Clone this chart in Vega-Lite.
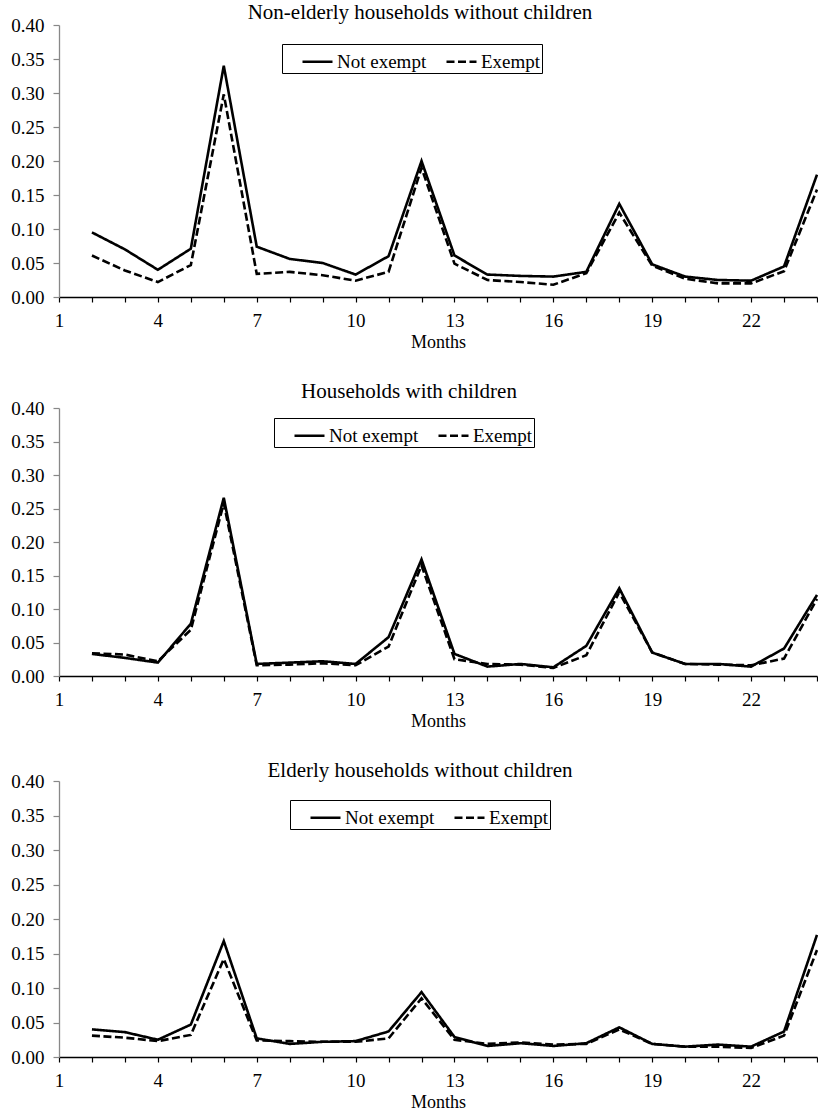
{
  "$schema": "https://vega.github.io/schema/vega-lite/v6.json",
  "padding": {"left": 10, "right": 2, "top": 2, "bottom": 0},
  "background": "white",
  "config": {
    "font": "Liberation Serif",
    "view": {"stroke": null},
    "concat": {"spacing": 30},
    "axis": {"labelFont": "Liberation Serif", "titleFont": "Liberation Serif", "labelColor": "black", "titleColor": "black", "labelFontSize": 19, "titleFontSize": 18, "titleFontWeight": "normal", "grid": false, "tickColor": "black", "domainColor": "black", "domainWidth": 1.3, "tickWidth": 1.2},
    "title": {"font": "Liberation Serif", "fontSize": 21, "fontWeight": "normal", "color": "black", "anchor": "middle"},
    "legend": {"orient": "none", "direction": "horizontal", "title": null, "strokeColor": "black", "fillColor": "white", "padding": 1, "labelFont": "Liberation Serif", "labelFontSize": 19, "labelColor": "black", "symbolType": "stroke", "symbolStrokeWidth": 2.6, "symbolStrokeColor": "black", "symbolSize": 900, "columnPadding": 0, "labelOffset": 3, "symbolOffset": 18}
  },
  "resolve": {"scale": {"strokeDash": "independent"}, "legend": {"strokeDash": "independent"}},
  "datasets": {
    "d": [
      {"panel": "A", "month": 2, "status": "Not exempt", "value": 0.095},
      {"panel": "A", "month": 3, "status": "Not exempt", "value": 0.070},
      {"panel": "A", "month": 4, "status": "Not exempt", "value": 0.040},
      {"panel": "A", "month": 5, "status": "Not exempt", "value": 0.071},
      {"panel": "A", "month": 6, "status": "Not exempt", "value": 0.340},
      {"panel": "A", "month": 7, "status": "Not exempt", "value": 0.074},
      {"panel": "A", "month": 8, "status": "Not exempt", "value": 0.056},
      {"panel": "A", "month": 9, "status": "Not exempt", "value": 0.050},
      {"panel": "A", "month": 10, "status": "Not exempt", "value": 0.033},
      {"panel": "A", "month": 11, "status": "Not exempt", "value": 0.060},
      {"panel": "A", "month": 12, "status": "Not exempt", "value": 0.200},
      {"panel": "A", "month": 13, "status": "Not exempt", "value": 0.061},
      {"panel": "A", "month": 14, "status": "Not exempt", "value": 0.033},
      {"panel": "A", "month": 15, "status": "Not exempt", "value": 0.031},
      {"panel": "A", "month": 16, "status": "Not exempt", "value": 0.030},
      {"panel": "A", "month": 17, "status": "Not exempt", "value": 0.037},
      {"panel": "A", "month": 18, "status": "Not exempt", "value": 0.137},
      {"panel": "A", "month": 19, "status": "Not exempt", "value": 0.048},
      {"panel": "A", "month": 20, "status": "Not exempt", "value": 0.030},
      {"panel": "A", "month": 21, "status": "Not exempt", "value": 0.025},
      {"panel": "A", "month": 22, "status": "Not exempt", "value": 0.024},
      {"panel": "A", "month": 23, "status": "Not exempt", "value": 0.045},
      {"panel": "A", "month": 24, "status": "Not exempt", "value": 0.180},
      {"panel": "A", "month": 2, "status": "Exempt", "value": 0.061},
      {"panel": "A", "month": 3, "status": "Exempt", "value": 0.039},
      {"panel": "A", "month": 4, "status": "Exempt", "value": 0.022},
      {"panel": "A", "month": 5, "status": "Exempt", "value": 0.047},
      {"panel": "A", "month": 6, "status": "Exempt", "value": 0.298},
      {"panel": "A", "month": 7, "status": "Exempt", "value": 0.034},
      {"panel": "A", "month": 8, "status": "Exempt", "value": 0.037},
      {"panel": "A", "month": 9, "status": "Exempt", "value": 0.032},
      {"panel": "A", "month": 10, "status": "Exempt", "value": 0.024},
      {"panel": "A", "month": 11, "status": "Exempt", "value": 0.037},
      {"panel": "A", "month": 12, "status": "Exempt", "value": 0.190},
      {"panel": "A", "month": 13, "status": "Exempt", "value": 0.049},
      {"panel": "A", "month": 14, "status": "Exempt", "value": 0.025},
      {"panel": "A", "month": 15, "status": "Exempt", "value": 0.022},
      {"panel": "A", "month": 16, "status": "Exempt", "value": 0.018},
      {"panel": "A", "month": 17, "status": "Exempt", "value": 0.035},
      {"panel": "A", "month": 18, "status": "Exempt", "value": 0.124},
      {"panel": "A", "month": 19, "status": "Exempt", "value": 0.046},
      {"panel": "A", "month": 20, "status": "Exempt", "value": 0.027},
      {"panel": "A", "month": 21, "status": "Exempt", "value": 0.020},
      {"panel": "A", "month": 22, "status": "Exempt", "value": 0.020},
      {"panel": "A", "month": 23, "status": "Exempt", "value": 0.038},
      {"panel": "A", "month": 24, "status": "Exempt", "value": 0.158},
      {"panel": "B", "month": 2, "status": "Not exempt", "value": 0.033},
      {"panel": "B", "month": 3, "status": "Not exempt", "value": 0.027},
      {"panel": "B", "month": 4, "status": "Not exempt", "value": 0.020},
      {"panel": "B", "month": 5, "status": "Not exempt", "value": 0.078},
      {"panel": "B", "month": 6, "status": "Not exempt", "value": 0.266},
      {"panel": "B", "month": 7, "status": "Not exempt", "value": 0.018},
      {"panel": "B", "month": 8, "status": "Not exempt", "value": 0.020},
      {"panel": "B", "month": 9, "status": "Not exempt", "value": 0.022},
      {"panel": "B", "month": 10, "status": "Not exempt", "value": 0.018},
      {"panel": "B", "month": 11, "status": "Not exempt", "value": 0.058},
      {"panel": "B", "month": 12, "status": "Not exempt", "value": 0.174},
      {"panel": "B", "month": 13, "status": "Not exempt", "value": 0.033},
      {"panel": "B", "month": 14, "status": "Not exempt", "value": 0.014},
      {"panel": "B", "month": 15, "status": "Not exempt", "value": 0.018},
      {"panel": "B", "month": 16, "status": "Not exempt", "value": 0.013},
      {"panel": "B", "month": 17, "status": "Not exempt", "value": 0.045},
      {"panel": "B", "month": 18, "status": "Not exempt", "value": 0.131},
      {"panel": "B", "month": 19, "status": "Not exempt", "value": 0.035},
      {"panel": "B", "month": 20, "status": "Not exempt", "value": 0.018},
      {"panel": "B", "month": 21, "status": "Not exempt", "value": 0.018},
      {"panel": "B", "month": 22, "status": "Not exempt", "value": 0.014},
      {"panel": "B", "month": 23, "status": "Not exempt", "value": 0.041},
      {"panel": "B", "month": 24, "status": "Not exempt", "value": 0.121},
      {"panel": "B", "month": 2, "status": "Exempt", "value": 0.034},
      {"panel": "B", "month": 3, "status": "Exempt", "value": 0.032},
      {"panel": "B", "month": 4, "status": "Exempt", "value": 0.022},
      {"panel": "B", "month": 5, "status": "Exempt", "value": 0.069},
      {"panel": "B", "month": 6, "status": "Exempt", "value": 0.258},
      {"panel": "B", "month": 7, "status": "Exempt", "value": 0.016},
      {"panel": "B", "month": 8, "status": "Exempt", "value": 0.017},
      {"panel": "B", "month": 9, "status": "Exempt", "value": 0.019},
      {"panel": "B", "month": 10, "status": "Exempt", "value": 0.016},
      {"panel": "B", "month": 11, "status": "Exempt", "value": 0.044},
      {"panel": "B", "month": 12, "status": "Exempt", "value": 0.165},
      {"panel": "B", "month": 13, "status": "Exempt", "value": 0.025},
      {"panel": "B", "month": 14, "status": "Exempt", "value": 0.018},
      {"panel": "B", "month": 15, "status": "Exempt", "value": 0.017},
      {"panel": "B", "month": 16, "status": "Exempt", "value": 0.012},
      {"panel": "B", "month": 17, "status": "Exempt", "value": 0.031},
      {"panel": "B", "month": 18, "status": "Exempt", "value": 0.125},
      {"panel": "B", "month": 19, "status": "Exempt", "value": 0.035},
      {"panel": "B", "month": 20, "status": "Exempt", "value": 0.018},
      {"panel": "B", "month": 21, "status": "Exempt", "value": 0.017},
      {"panel": "B", "month": 22, "status": "Exempt", "value": 0.016},
      {"panel": "B", "month": 23, "status": "Exempt", "value": 0.026},
      {"panel": "B", "month": 24, "status": "Exempt", "value": 0.115},
      {"panel": "C", "month": 2, "status": "Not exempt", "value": 0.040},
      {"panel": "C", "month": 3, "status": "Not exempt", "value": 0.036},
      {"panel": "C", "month": 4, "status": "Not exempt", "value": 0.025},
      {"panel": "C", "month": 5, "status": "Not exempt", "value": 0.047},
      {"panel": "C", "month": 6, "status": "Not exempt", "value": 0.168},
      {"panel": "C", "month": 7, "status": "Not exempt", "value": 0.027},
      {"panel": "C", "month": 8, "status": "Not exempt", "value": 0.019},
      {"panel": "C", "month": 9, "status": "Not exempt", "value": 0.022},
      {"panel": "C", "month": 10, "status": "Not exempt", "value": 0.023},
      {"panel": "C", "month": 11, "status": "Not exempt", "value": 0.037},
      {"panel": "C", "month": 12, "status": "Not exempt", "value": 0.094},
      {"panel": "C", "month": 13, "status": "Not exempt", "value": 0.029},
      {"panel": "C", "month": 14, "status": "Not exempt", "value": 0.016},
      {"panel": "C", "month": 15, "status": "Not exempt", "value": 0.020},
      {"panel": "C", "month": 16, "status": "Not exempt", "value": 0.016},
      {"panel": "C", "month": 17, "status": "Not exempt", "value": 0.020},
      {"panel": "C", "month": 18, "status": "Not exempt", "value": 0.043},
      {"panel": "C", "month": 19, "status": "Not exempt", "value": 0.019},
      {"panel": "C", "month": 20, "status": "Not exempt", "value": 0.015},
      {"panel": "C", "month": 21, "status": "Not exempt", "value": 0.018},
      {"panel": "C", "month": 22, "status": "Not exempt", "value": 0.015},
      {"panel": "C", "month": 23, "status": "Not exempt", "value": 0.037},
      {"panel": "C", "month": 24, "status": "Not exempt", "value": 0.177},
      {"panel": "C", "month": 2, "status": "Exempt", "value": 0.031},
      {"panel": "C", "month": 3, "status": "Exempt", "value": 0.028},
      {"panel": "C", "month": 4, "status": "Exempt", "value": 0.023},
      {"panel": "C", "month": 5, "status": "Exempt", "value": 0.032},
      {"panel": "C", "month": 6, "status": "Exempt", "value": 0.142},
      {"panel": "C", "month": 7, "status": "Exempt", "value": 0.024},
      {"panel": "C", "month": 8, "status": "Exempt", "value": 0.023},
      {"panel": "C", "month": 9, "status": "Exempt", "value": 0.022},
      {"panel": "C", "month": 10, "status": "Exempt", "value": 0.022},
      {"panel": "C", "month": 11, "status": "Exempt", "value": 0.027},
      {"panel": "C", "month": 12, "status": "Exempt", "value": 0.085},
      {"panel": "C", "month": 13, "status": "Exempt", "value": 0.025},
      {"panel": "C", "month": 14, "status": "Exempt", "value": 0.019},
      {"panel": "C", "month": 15, "status": "Exempt", "value": 0.021},
      {"panel": "C", "month": 16, "status": "Exempt", "value": 0.018},
      {"panel": "C", "month": 17, "status": "Exempt", "value": 0.019},
      {"panel": "C", "month": 18, "status": "Exempt", "value": 0.040},
      {"panel": "C", "month": 19, "status": "Exempt", "value": 0.019},
      {"panel": "C", "month": 20, "status": "Exempt", "value": 0.015},
      {"panel": "C", "month": 21, "status": "Exempt", "value": 0.015},
      {"panel": "C", "month": 22, "status": "Exempt", "value": 0.013},
      {"panel": "C", "month": 23, "status": "Exempt", "value": 0.031},
      {"panel": "C", "month": 24, "status": "Exempt", "value": 0.155}
    ]
  },
  "vconcat": [
    {
      "title": {"text": "Non-elderly households without children", "offset": -7, "dx": -18},
      "width": 758, "height": 272,
      "data": {"name": "d"},
      "transform": [{"filter": "datum.panel == 'A'"}],
      "mark": {"type": "line", "color": "black", "strokeWidth": 2.6},
      "encoding": {
        "x": {"field": "month", "type": "quantitative", "title": "Months", "scale": {"domain": [1, 24], "nice": false, "zero": false},
              "axis": {"values": [1,2,3,4,5,6,7,8,9,10,11,12,13,14,15,16,17,18,19,20,21,22,23,24], "labelExpr": "(datum.value - 1) % 3 == 0 && datum.value < 24 ? datum.label : ''", "tickSize": 5, "labelPadding": 9, "titlePadding": 3, "labelFlush": false, "labelOverlap": false}},
        "y": {"field": "value", "type": "quantitative", "title": null, "scale": {"domain": [0, 0.4], "nice": false},
              "axis": {"values": [0,0.05,0.1,0.15,0.2,0.25,0.3,0.35,0.4], "format": ".2f", "tickSize": 6, "labelPadding": 9, "domainColor": "#888888", "tickColor": "#888888", "labelFlush": false, "labelOverlap": false}},
        "strokeDash": {"field": "status", "type": "nominal", "scale": {"domain": ["Not exempt", "Exempt"], "range": [[1, 0], [8, 3.5]]}, "legend": {"legendX": 223, "legendY": 19, "labelExpr": "datum.label == 'Exempt' ? 'Exempt\u00a0\u00a0\u00a0\u00a0' : datum.label"}}
      }
    },
    {
      "title": {"text": "Households with children", "offset": -3, "dx": -29},
      "width": 758, "height": 268,
      "data": {"name": "d"},
      "transform": [{"filter": "datum.panel == 'B'"}],
      "mark": {"type": "line", "color": "black", "strokeWidth": 2.6},
      "encoding": {
        "x": {"field": "month", "type": "quantitative", "title": "Months", "scale": {"domain": [1, 24], "nice": false, "zero": false},
              "axis": {"values": [1,2,3,4,5,6,7,8,9,10,11,12,13,14,15,16,17,18,19,20,21,22,23,24], "labelExpr": "(datum.value - 1) % 3 == 0 && datum.value < 24 ? datum.label : ''", "tickSize": 5, "labelPadding": 9, "titlePadding": 3, "labelFlush": false, "labelOverlap": false}},
        "y": {"field": "value", "type": "quantitative", "title": null, "scale": {"domain": [0, 0.4], "nice": false},
              "axis": {"values": [0,0.05,0.1,0.15,0.2,0.25,0.3,0.35,0.4], "format": ".2f", "tickSize": 6, "labelPadding": 9, "domainColor": "#888888", "tickColor": "#888888", "labelFlush": false, "labelOverlap": false}},
        "strokeDash": {"field": "status", "type": "nominal", "scale": {"domain": ["Not exempt", "Exempt"], "range": [[1, 0], [8, 3.5]]}, "legend": {"legendX": 215, "legendY": 10, "labelExpr": "datum.label == 'Exempt' ? 'Exempt\u00a0\u00a0\u00a0\u00a0' : datum.label"}}
      }
    },
    {
      "title": {"text": "Elderly households without children", "offset": -9, "dx": -18},
      "width": 758, "height": 276,
      "data": {"name": "d"},
      "transform": [{"filter": "datum.panel == 'C'"}],
      "mark": {"type": "line", "color": "black", "strokeWidth": 2.6},
      "encoding": {
        "x": {"field": "month", "type": "quantitative", "title": "Months", "scale": {"domain": [1, 24], "nice": false, "zero": false},
              "axis": {"values": [1,2,3,4,5,6,7,8,9,10,11,12,13,14,15,16,17,18,19,20,21,22,23,24], "labelExpr": "(datum.value - 1) % 3 == 0 && datum.value < 24 ? datum.label : ''", "tickSize": 5, "labelPadding": 9, "titlePadding": 3, "labelFlush": false, "labelOverlap": false}},
        "y": {"field": "value", "type": "quantitative", "title": null, "scale": {"domain": [0, 0.4], "nice": false},
              "axis": {"values": [0,0.05,0.1,0.15,0.2,0.25,0.3,0.35,0.4], "format": ".2f", "tickSize": 6, "labelPadding": 9, "domainColor": "#888888", "tickColor": "#888888", "labelFlush": false, "labelOverlap": false}},
        "strokeDash": {"field": "status", "type": "nominal", "scale": {"domain": ["Not exempt", "Exempt"], "range": [[1, 0], [8, 3.5]]}, "legend": {"legendX": 231, "legendY": 19, "labelExpr": "datum.label == 'Exempt' ? 'Exempt\u00a0\u00a0\u00a0\u00a0' : datum.label"}}
      }
    }
  ]
}
